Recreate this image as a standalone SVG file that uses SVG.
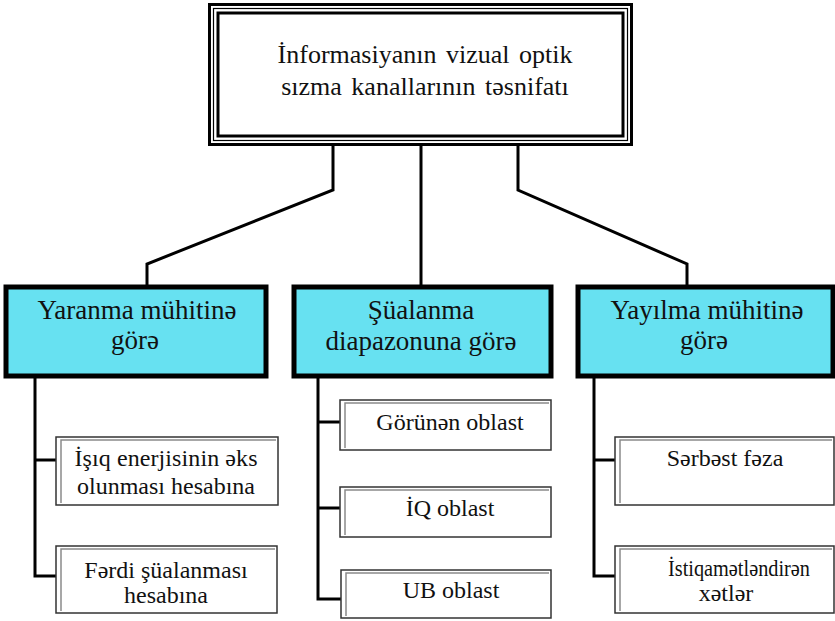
<svg xmlns="http://www.w3.org/2000/svg" width="835" height="621" viewBox="0 0 835 621">
  <style>
    .t { font-family: 'Liberation Serif', 'Times New Roman', serif; fill: #111; text-anchor: middle; }
    .title { font-size: 26px; word-spacing: 3px; }
    .cat { font-size: 27px; }
    .leaf { font-size: 24px; }
    .conn { fill: none; stroke: #000; stroke-width: 3; stroke-linejoin: miter; }
    .cbox { fill: #67E1F1; stroke: #000; stroke-width: 5; }
    .lbox { fill: #fff; stroke: #333; stroke-width: 1.5; }
    .lin { fill: none; stroke: #8a8a8a; stroke-width: 1.5; }
  </style>

  <rect width="835" height="621" fill="#fff"/>

  <!-- connectors -->
  <g id="connectors">
    <polyline class="conn" points="333,146 333,190 147,264 147,287"/>
    <line class="conn" x1="421" y1="146" x2="421" y2="287"/>
    <polyline class="conn" points="518,146 518,190 687,264 687,287"/>

    <polyline class="conn" points="35,377 35,576 56,576"/>
    <line class="conn" x1="35" y1="460" x2="56" y2="460"/>

    <polyline class="conn" points="318,377 318,599 341,599"/>
    <line class="conn" x1="318" y1="422" x2="340" y2="422"/>
    <line class="conn" x1="318" y1="508" x2="340" y2="508"/>

    <polyline class="conn" points="594,377 594,576 615,576"/>
    <line class="conn" x1="594" y1="460" x2="615" y2="460"/>
  </g>

  <!-- root -->
  <g id="root">
    <rect x="209.5" y="4.5" width="422" height="140" fill="#fff" stroke="#000" stroke-width="3"/>
    <rect x="213.5" y="8.5" width="414" height="132" fill="none" stroke="#000" stroke-width="1.2"/>
    <rect x="218" y="13" width="405" height="123" fill="none" stroke="#000" stroke-width="3"/>
    <text class="t title" x="425" y="63">İnformasiyanın vizual optik</text>
    <text class="t title" x="425" y="95">sızma kanallarının təsnifatı</text>
  </g>

  <!-- categories -->
  <g id="cat-origin">
    <rect class="cbox" x="6" y="287" width="260" height="89"/>
    <text class="t cat" x="137" y="319">Yaranma mühitinə</text>
    <text class="t cat" x="135" y="349">görə</text>
  </g>
  <g id="cat-range">
    <rect class="cbox" x="294" y="287" width="257" height="89"/>
    <text class="t cat" x="421" y="319">Şüalanma</text>
    <text class="t cat" x="421" y="350">diapazonuna görə</text>
  </g>
  <g id="cat-medium">
    <rect class="cbox" x="578" y="287" width="255" height="89"/>
    <text class="t cat" x="707" y="319">Yayılma mühitinə</text>
    <text class="t cat" x="704" y="349">görə</text>
  </g>

  <!-- leaves: origin -->
  <g id="leaf-reflect">
    <rect class="lbox" x="56" y="437" width="222" height="68"/>
    <path class="lin" d="M61,503 V440 H276"/>
    <text class="t leaf" x="166" y="466" textLength="183" lengthAdjust="spacing">İşıq enerjisinin əks</text>
    <text class="t leaf" x="166" y="494">olunması hesabına</text>
  </g>
  <g id="leaf-own">
    <rect class="lbox" x="56" y="546" width="221" height="67"/>
    <path class="lin" d="M61,611 V549 H275"/>
    <text class="t leaf" x="166" y="578">Fərdi şüalanması</text>
    <text class="t leaf" x="166" y="603">hesabına</text>
  </g>

  <!-- leaves: range -->
  <g id="leaf-visible">
    <rect class="lbox" x="340" y="400" width="211" height="50"/>
    <path class="lin" d="M345,448 V403 H549"/>
    <text class="t leaf" x="450" y="430">Görünən oblast</text>
  </g>
  <g id="leaf-ir">
    <rect class="lbox" x="340" y="487" width="211" height="50"/>
    <path class="lin" d="M345,535 V490 H549"/>
    <text class="t leaf" x="450" y="516">İQ oblast</text>
  </g>
  <g id="leaf-uv">
    <rect class="lbox" x="341" y="570" width="210" height="48"/>
    <path class="lin" d="M346,616 V573 H549"/>
    <text class="t leaf" x="451" y="598">UB oblast</text>
  </g>

  <!-- leaves: medium -->
  <g id="leaf-free">
    <rect class="lbox" x="615" y="437" width="219" height="68"/>
    <path class="lin" d="M620,503 V440 H832"/>
    <text class="t leaf" x="725" y="466">Sərbəst fəza</text>
  </g>
  <g id="leaf-guided">
    <rect class="lbox" x="615" y="546" width="219" height="67"/>
    <path class="lin" d="M620,611 V549 H832"/>
    <text class="t leaf" x="739" y="576" textLength="142" lengthAdjust="spacingAndGlyphs">İstiqamətləndirən</text>
    <text class="t leaf" x="726" y="601">xətlər</text>
  </g>
</svg>
